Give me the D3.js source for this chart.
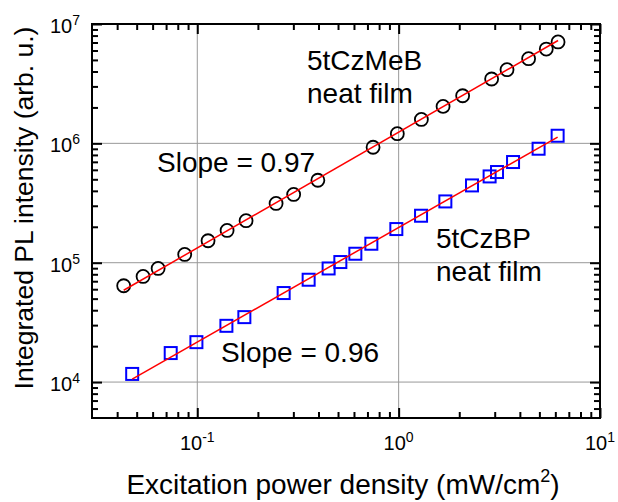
<!DOCTYPE html>
<html>
<head>
<meta charset="utf-8">
<script src="https://cdn.jsdelivr.net/npm/d3@7"></script>
<style>
  body { margin: 0; background: #fff; }
  svg { display: block; }
  text { font-family: "Liberation Sans", Arial, Helvetica, sans-serif; fill: #000; }
</style>
</head>
<body>
<svg id="chart" width="618" height="502"></svg>
<script>
// Excitation power density (mW/cm^2) and integrated PL intensity (arb. u.)
const powerMeB = [0.0431, 0.0538, 0.0639, 0.0866, 0.1131, 0.1406, 0.1747, 0.2462, 0.301, 0.397,
                  0.7465, 0.985, 1.297, 1.662, 2.079, 2.896, 3.453, 4.42, 5.41, 6.19];
const intensityMeB = [64100, 76700, 89500, 117300, 152800, 186300, 224800, 313800, 373400, 491000,
                      928000, 1205000, 1587000, 2040000, 2506000, 3460000, 4140000, 5120000, 6170000, 7070000];
const powerBP = [0.0475, 0.0738, 0.099, 0.1395, 0.1713, 0.2685, 0.3573, 0.449, 0.5134, 0.6095,
                 0.7319, 0.974, 1.292, 1.706, 2.314, 2.830, 3.08, 3.70, 4.955, 6.16];
const intensityBP = [11700, 17500, 21600, 29600, 35000, 55700, 72000, 89500, 101300, 118900,
                     144200, 191400, 247500, 326200, 444200, 528400, 575200, 697500, 901600, 1158000];
const slopeMeB = 0.97;
const slopeBP = 0.96;

// Axis ranges and decade tick labels (base 10, exponent shown as superscript)
const xDomain = [0.03, 10];
const yDomain = [5000, 1e7];
const xTickValues = [0.1, 1, 10];
const xTickExps = ["-1", "0", "1"];
const yTickValues = [1e4, 1e5, 1e6, 1e7];
const yTickExps = ["4", "5", "6", "7"];

const svg = d3.select("#chart");
const plotLeft = 92, plotRight = 600, plotTop = 24, plotBottom = 418;

const x = d3.scaleLog().domain(xDomain).range([plotLeft, plotRight]);
const y = d3.scaleLog().domain(yDomain).range([plotBottom, plotTop]);

// minor ticks: 2..9 times each decade inside the domain
function minorTicks(domain) {
  const out = [];
  for (let e = -3; e <= 8; e++) {
    for (let m = 2; m <= 9; m++) {
      const v = m * Math.pow(10, e);
      if (v > domain[0] * 1.0001 && v < domain[1] * 0.9999) out.push(v);
    }
  }
  return out;
}
const xMinor = minorTicks(xDomain);
const yMinor = minorTicks(yDomain);

// grid lines at the decades
const grid = svg.append("g").attr("stroke", "#999").attr("stroke-width", 1);
grid.selectAll("line.gx").data(xTickValues.filter(v => v > xDomain[0] && v < xDomain[1]))
  .join("line").attr("class", "gx")
  .attr("x1", d => x(d)).attr("x2", d => x(d)).attr("y1", plotTop).attr("y2", plotBottom);
grid.selectAll("line.gy").data(yTickValues.filter(v => v > yDomain[0] && v < yDomain[1]))
  .join("line").attr("class", "gy")
  .attr("x1", plotLeft).attr("x2", plotRight).attr("y1", d => y(d)).attr("y2", d => y(d));

// series markers
const circles = powerMeB.map((p, i) => ({ p, v: intensityMeB[i] }));
const squares = powerBP.map((p, i) => ({ p, v: intensityBP[i] }));

svg.append("g").selectAll("circle").data(circles).join("circle")
  .attr("cx", d => x(d.p)).attr("cy", d => y(d.v)).attr("r", 6.5)
  .attr("fill", "none").attr("stroke", "#000").attr("stroke-width", 1.8);

const sq = 12;
svg.append("g").selectAll("rect").data(squares).join("rect")
  .attr("x", d => x(d.p) - sq / 2).attr("y", d => y(d.v) - sq / 2)
  .attr("width", sq).attr("height", sq)
  .attr("fill", "none").attr("stroke", "#0000ff").attr("stroke-width", 2);

// power-law fits with fixed slope: log I = slope * log P + b
function fitLine(ps, vs, slope) {
  const lx = ps.map(Math.log10), ly = vs.map(Math.log10);
  const b = d3.mean(ly) - slope * d3.mean(lx);
  const x0 = d3.min(ps), x1 = d3.max(ps);
  return [[x0, Math.pow(10, slope * Math.log10(x0) + b)], [x1, Math.pow(10, slope * Math.log10(x1) + b)]];
}
const line = d3.line().x(d => x(d[0])).y(d => y(d[1]));
[[powerMeB, intensityMeB, slopeMeB], [powerBP, intensityBP, slopeBP]].forEach(([ps, vs, s]) => {
  svg.append("path").attr("d", line(fitLine(ps, vs, s)))
    .attr("fill", "none").attr("stroke", "#ff0000").attr("stroke-width", 1.5);
});

// frame and inward ticks on all four sides
function styleAxis(g) {
  g.select(".domain").remove();
  g.selectAll(".tick line").attr("stroke", "#000").attr("stroke-width", 2);
  g.selectAll(".tick text").remove();
}
const majorLen = 10, minorLen = 6;
svg.append("g").attr("transform", `translate(0,${plotBottom})`)
  .call(d3.axisTop(x).tickValues(xTickValues).tickSize(majorLen).tickFormat("")).call(styleAxis);
svg.append("g").attr("transform", `translate(0,${plotBottom})`)
  .call(d3.axisTop(x).tickValues(xMinor).tickSize(minorLen).tickFormat("")).call(styleAxis);
svg.append("g").attr("transform", `translate(0,${plotTop})`)
  .call(d3.axisBottom(x).tickValues(xTickValues).tickSize(majorLen).tickFormat("")).call(styleAxis);
svg.append("g").attr("transform", `translate(0,${plotTop})`)
  .call(d3.axisBottom(x).tickValues(xMinor).tickSize(minorLen).tickFormat("")).call(styleAxis);
svg.append("g").attr("transform", `translate(${plotLeft},0)`)
  .call(d3.axisRight(y).tickValues(yTickValues).tickSize(majorLen).tickFormat("")).call(styleAxis);
svg.append("g").attr("transform", `translate(${plotLeft},0)`)
  .call(d3.axisRight(y).tickValues(yMinor).tickSize(minorLen).tickFormat("")).call(styleAxis);
svg.append("g").attr("transform", `translate(${plotRight},0)`)
  .call(d3.axisLeft(y).tickValues(yTickValues).tickSize(majorLen).tickFormat("")).call(styleAxis);
svg.append("g").attr("transform", `translate(${plotRight},0)`)
  .call(d3.axisLeft(y).tickValues(yMinor).tickSize(minorLen).tickFormat("")).call(styleAxis);

svg.append("rect").attr("x", plotLeft).attr("y", plotTop)
  .attr("width", plotRight - plotLeft).attr("height", plotBottom - plotTop)
  .attr("fill", "none").attr("stroke", "#000").attr("stroke-width", 2);

// decade tick labels
function powerLabel(g, exp) {
  g.append("tspan").text("10");
  g.append("tspan").attr("font-size", 14).attr("dy", -8).text(exp);
}
xTickValues.forEach((v, i) => {
  const t = svg.append("text").attr("x", x(v)).attr("y", plotBottom + 32)
    .attr("text-anchor", "middle").attr("font-size", 20);
  powerLabel(t, xTickExps[i]);
});
yTickValues.forEach((v, i) => {
  const t = svg.append("text").attr("x", plotLeft - 12).attr("y", y(v) + 9)
    .attr("text-anchor", "end").attr("font-size", 20);
  powerLabel(t, yTickExps[i]);
});

// axis titles
const xt = svg.append("text").attr("x", (plotLeft + plotRight) / 2 - 3).attr("y", 494)
  .attr("text-anchor", "middle").attr("font-size", 28);
xt.append("tspan").text("Excitation power density (mW/cm");
xt.append("tspan").attr("font-size", 18).attr("dy", -12).text("2");
xt.append("tspan").attr("dy", 12).text(")");

svg.append("text").attr("transform", `translate(33,${(plotTop + plotBottom) / 2 - 13}) rotate(-90)`)
  .attr("text-anchor", "middle").attr("font-size", 26.5)
  .text("Integrated PL intensity (arb. u.)");

// annotations
const ann = [
  ["5tCzMeB", 307, 70], ["neat film", 307, 103], ["Slope = 0.97", 157, 172],
  ["5tCzBP", 436, 248], ["neat film", 436, 281], ["Slope = 0.96", 221, 362]
];
svg.append("g").selectAll("text").data(ann).join("text")
  .attr("x", d => d[1]).attr("y", d => d[2]).attr("font-size", 28).text(d => d[0]);
</script>
</body>
</html>
